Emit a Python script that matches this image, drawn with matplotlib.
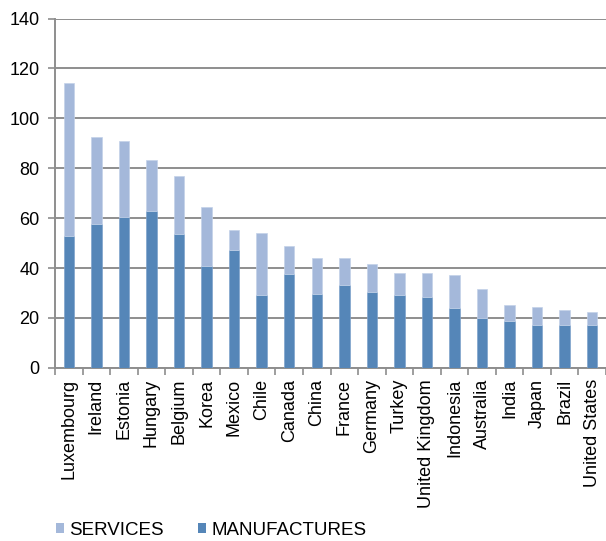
import matplotlib
matplotlib.use("Agg")
import matplotlib.pyplot as plt
from matplotlib.patches import Patch
import numpy as np

countries = ["Luxembourg", "Ireland", "Estonia", "Hungary", "Belgium", "Korea",
             "Mexico", "Chile", "Canada", "China", "France", "Germany", "Turkey",
             "United Kingdom", "Indonesia", "Australia", "India", "Japan",
             "Brazil", "United States"]
manufactures = [52.9, 57.8, 60.6, 62.9, 53.7, 40.8, 47.3, 29.0, 37.4, 29.6,
                33.3, 30.4, 29.0, 28.4, 24.1, 20.0, 18.6, 17.3, 17.3, 17.3]
totals = [114.1, 92.4, 91.0, 83.3, 76.9, 64.3, 55.1, 53.9, 48.8, 43.9,
          43.9, 41.7, 38.2, 38.2, 37.1, 31.5, 25.0, 24.3, 23.0, 22.3]
services = [t - m for t, m in zip(totals, manufactures)]
yticks = [0, 20, 40, 60, 80, 100, 120, 140]

col_serv = "#A4B8DA"
col_manu = "#5586B8"
grey = "#8E8E8E"

plt.rcParams["font.family"] = ["Liberation Sans", "DejaVu Sans"]

fig = plt.figure(figsize=(6.06, 5.41), dpi=100)
ax = fig.add_axes([0.0908, 0.3202, 0.9092, 0.6454])

x = np.arange(len(countries))
w = 0.38
ax.bar(x, manufactures, width=w, color=col_manu, edgecolor="#7FA3CC", linewidth=0.5, zorder=3)
ax.bar(x, services, bottom=manufactures, width=w, color=col_serv, edgecolor="#C3D2E9",
       linewidth=0.5, zorder=3)

ax.set_xlim(-0.5, len(countries) - 0.5)
ax.set_ylim(0, 140)
ax.set_yticks(yticks)
ax.set_yticklabels([str(v) for v in yticks], fontsize=13)
ax.yaxis.grid(True, color=grey, linewidth=1.4, zorder=0)
ax.set_axisbelow(True)

ax.set_xticks(x)
ax.set_xticklabels(countries, rotation=90, fontsize=13)
ax.set_xticks(np.arange(-0.5, len(countries), 1.0), minor=True)
ax.tick_params(axis="x", which="major", length=0, pad=8)
ax.tick_params(axis="x", which="minor", length=5, width=1.2, color=grey, direction="out")
ax.tick_params(axis="y", length=5, width=1.2, color=grey, pad=6)

for side in ("top", "right"):
    ax.spines[side].set_visible(False)
for side in ("left", "bottom"):
    ax.spines[side].set_color(grey)
    ax.spines[side].set_linewidth(1.4)

handles = [Patch(facecolor=col_serv, edgecolor="none"),
           Patch(facecolor=col_manu, edgecolor="none")]
fig.legend(handles, ["SERVICES", "MANUFACTURES"], loc="lower left",
           bbox_to_anchor=(56 / 606, 2 / 541), ncol=2, frameon=False,
           fontsize=13.5, handlelength=0.42, handleheight=0.42,
           handletextpad=0.28, columnspacing=1.85, borderpad=0, borderaxespad=0)

fig.savefig("out.png", dpi=100)
